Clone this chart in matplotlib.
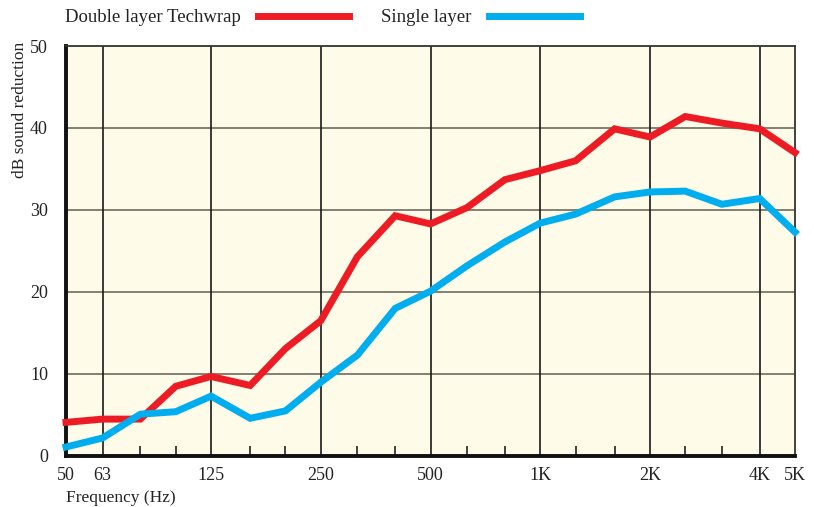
import numpy as np
import matplotlib
matplotlib.use("Agg")
import matplotlib.pyplot as plt
from matplotlib.ticker import FixedLocator, NullFormatter

plt.rcParams['font.family'] = ['Liberation Serif', 'DejaVu Serif']

# third-octave band centres (Hz)
freqs = [50, 63, 80, 100, 125, 160, 200, 250, 315, 400, 500, 630, 800,
         1000, 1250, 1600, 2000, 2500, 3150, 4000, 5000]
double_layer = [4.1, 4.5, 4.5, 8.5, 9.7, 8.6, 13.1, 16.5, 24.3, 29.3, 28.3,
                30.3, 33.7, 34.8, 36.0, 39.9, 38.9, 41.4, 40.6, 39.9, 37.0]
single_layer = [1.1, 2.2, 5.1, 5.4, 7.3, 4.6, 5.5, 9.0, 12.3, 18.0, 20.1,
                23.2, 26.1, 28.4, 29.5, 31.6, 32.2, 32.3, 30.7, 31.4, 27.3]

major_ticks = [50, 63, 125, 250, 500, 1000, 2000, 4000, 5000]
major_labels = ['50', '63', '125', '250', '500', '1K', '2K', '4K', '5K']
grid_x = [63, 125, 250, 500, 1000, 2000, 4000]
minor_ticks = [80, 100, 160, 200, 315, 400, 630, 800, 1250, 1600, 2500, 3150]
y_ticks = [0, 10, 20, 30, 40, 50]

red = '#ED1C24'
blue = '#00AEEF'

fig = plt.figure(figsize=(8.14, 5.07), dpi=100)
ax = fig.add_axes([66 / 814, 51 / 507, 729 / 814, 410 / 507])
ax.set_facecolor('#FEFBE8')

ax.set_xscale('log')
ax.set_xlim(50, 5000)
ax.set_ylim(0, 50)

# grid
for y in y_ticks[1:-1]:
    ax.axhline(y, color='#6e6b60', lw=1.2, zorder=1)
for x in grid_x:
    ax.axvline(x, color='#1a1a1a', lw=1.2, zorder=1)

ax.plot(freqs, double_layer, color=red, lw=5, solid_joinstyle='miter',
        label='Double layer Techwrap', zorder=3, clip_on=False)
ax.plot(freqs, single_layer, color=blue, lw=5, solid_joinstyle='miter',
        label='Single layer', zorder=3, clip_on=False)

ax.xaxis.set_major_locator(FixedLocator(major_ticks))
ax.set_xticklabels(major_labels)
ax.xaxis.set_minor_locator(FixedLocator(minor_ticks))
ax.xaxis.set_minor_formatter(NullFormatter())
ax.tick_params(axis='x', which='major', length=0, labelsize=13, pad=8,
               colors='#222222')
ax.tick_params(axis='x', which='minor', direction='in', length=7, width=1.3,
               color='#333333')
ax.set_yticks(y_ticks)
ax.tick_params(axis='y', length=0, labelsize=13, pad=13, colors='#222222')

for side in ['left', 'bottom']:
    ax.spines[side].set_linewidth(2.8)
    ax.spines[side].set_color('#111111')
for side in ['top', 'right']:
    ax.spines[side].set_linewidth(1.3)
    ax.spines[side].set_color('#333333')

ax.set_ylabel('dB sound reduction', fontsize=12.5, color='#222222')
ax.yaxis.set_label_coords(-0.052, 0.845)
ax.set_xlabel('Frequency (Hz)', fontsize=12.5, color='#222222')
ax.xaxis.set_label_coords(0.0, -0.083)
ax.xaxis.label.set_horizontalalignment('left')

ax.legend(loc='lower left', bbox_to_anchor=(-0.012, 1.03), ncol=2,
          frameon=False, markerfirst=False, fontsize=13.5, handlelength=4.9,
          handletextpad=0.9, columnspacing=1.7, borderaxespad=0,
          labelcolor='#222222')

fig.savefig('out.png', dpi=100)
